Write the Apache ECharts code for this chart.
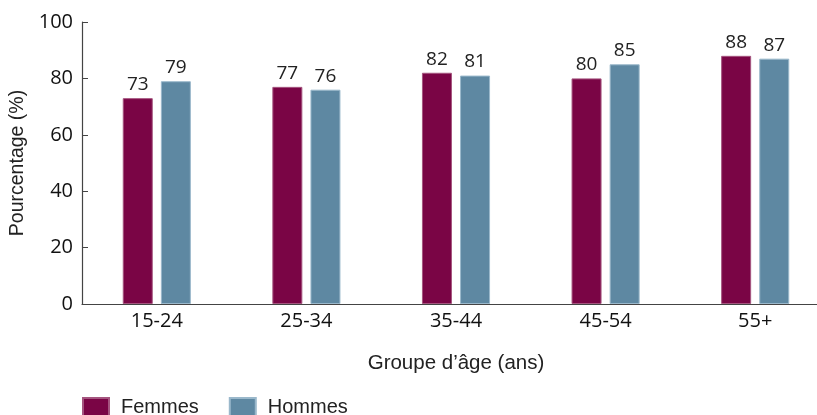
<!DOCTYPE html>
<html>
<head>
<meta charset="utf-8">
<script src="https://cdn.jsdelivr.net/npm/echarts@6/dist/echarts.min.js"></script>
<style>html,body{margin:0;padding:0;background:#fff;}#c{width:817px;height:415px;}</style>
</head>
<body>
<div id="c"></div>
<script>
const categories = ['15-24', '25-34', '35-44', '45-54', '55+'];
const femmes = [73, 77, 82, 80, 88];
const hommes = [79, 76, 81, 85, 87];
const yTicks = [0, 20, 40, 60, 80, 100];

const chart = echarts.init(document.getElementById('c'), null, {renderer: 'canvas'});
const numFont = '"Open Sans", sans-serif';
const txtFont = '"Liberation Sans", Arial, sans-serif';
chart.setOption({
  animation: false,
  backgroundColor: '#fff',
  grid: {left: 82, top: 22, bottom: 111, right: -13, containLabel: false, outerBoundsMode: 'none'},
  legend: {
    left: 77, top: 392, itemWidth: 26, itemHeight: 18, itemGap: 30,
    icon: 'rect',
    textStyle: {fontFamily: txtFont, fontSize: 20, color: '#222', padding: [0, 0, 0, 7]},
    data: ['Femmes', 'Hommes']
  },
  xAxis: {
    type: 'category', data: categories,
    name: 'Groupe d\u2019\u00e2ge (ans)', nameLocation: 'middle', nameGap: 49,
    nameTextStyle: {fontFamily: txtFont, fontSize: 20.5, color: '#222'},
    axisLine: {lineStyle: {color: '#444', width: 1.2}},
    axisTick: {inside: true, length: 5, lineStyle: {color: '#444'}},
    axisLabel: {fontFamily: numFont, fontSize: 20, color: '#111', margin: 7}
  },
  yAxis: {
    type: 'value', min: yTicks[0], max: yTicks[yTicks.length - 1], interval: 20,
    name: 'Pourcentage (%)', nameLocation: 'middle', nameGap: 51, nameRotate: 90,
    nameTextStyle: {fontFamily: txtFont, fontSize: 19.5, color: '#222'},
    axisLine: {show: true, lineStyle: {color: '#444', width: 1.2}},
    axisTick: {show: true, inside: true, length: 6, lineStyle: {color: '#444'}},
    splitLine: {show: false},
    axisLabel: {fontFamily: numFont, fontSize: 20, color: '#111', margin: 9}
  },
  series: [
    {
      name: 'Femmes', type: 'bar', data: femmes, barWidth: 30, barGap: '27%',
      itemStyle: {color: '#7a0545', borderColor: '#a5557f', borderWidth: 1},
      label: {show: true, position: 'top', distance: 4, fontFamily: numFont, fontSize: 19, color: '#222'}
    },
    {
      name: 'Hommes', type: 'bar', data: hommes, barWidth: 30, barGap: '27%',
      itemStyle: {color: '#5e88a2', borderColor: '#9ab8cb', borderWidth: 1},
      label: {show: true, position: 'top', distance: 4, fontFamily: numFont, fontSize: 19, color: '#222'}
    }
  ]
});
</script>
</body>
</html>
